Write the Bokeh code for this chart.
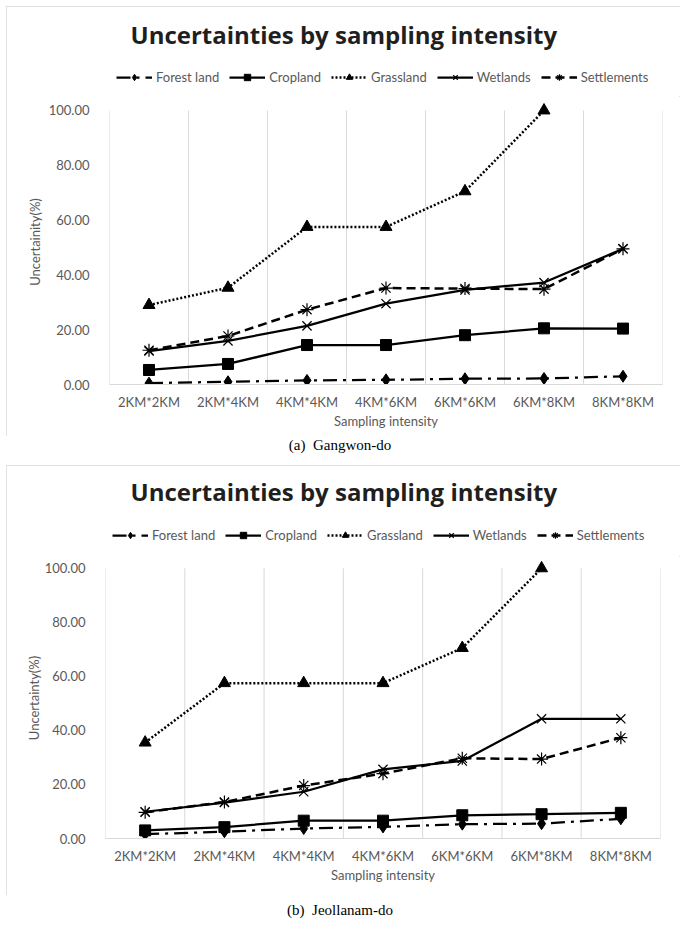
from bokeh.plotting import figure
from bokeh.models import (FixedTicker, NumeralTickFormatter, Legend, LegendItem,
                          Range1d, Div)
from bokeh.layouts import column
from bokeh.embed import file_html
from bokeh.resources import INLINE

# ---------------- data ----------------
categories = ["2KM*2KM", "2KM*4KM", "4KM*4KM", "4KM*6KM", "6KM*6KM", "6KM*8KM", "8KM*8KM"]
series_names = ["Forest land", "Cropland", "Grassland", "Wetlands", "Settlements"]
y_ticks = [0, 20, 40, 60, 80, 100]

# (a) Gangwon-do
gw_forest = [0.5, 1.0, 1.5, 1.7, 2.1, 2.2, 3.0]
gw_cropland = [5.3, 7.5, 14.4, 14.4, 18.0, 20.5, 20.4]
gw_grassland = [29.0, 35.3, 57.5, 57.5, 70.5, 100.0, float("nan")]
gw_wetlands = [12.2, 15.9, 21.4, 29.5, 34.5, 37.2, 49.5]
gw_settlements = [12.5, 17.7, 27.3, 35.2, 35.0, 34.8, 49.5]

# (b) Jeollanam-do
jn_forest = [1.6, 2.5, 3.7, 4.3, 5.3, 5.5, 7.3]
jn_cropland = [3.0, 4.2, 6.6, 6.6, 8.6, 9.0, 9.5]
jn_grassland = [35.5, 57.5, 57.5, 57.5, 70.5, 100.0, float("nan")]
jn_wetlands = [9.9, 13.3, 17.3, 25.6, 28.7, 44.3, 44.3]
jn_settlements = [9.7, 13.5, 19.6, 24.0, 29.7, 29.4, 37.3]

# ---------------- styles ----------------
TEXT = "#595959"
GRID = "#d9d9d9"
styles = {
    "Forest land": dict(dash="14 6 3 6", marker="diamond", size=12, mlw=1, lw=2.25),
    "Cropland": dict(dash="solid", marker="square", size=11, mlw=1, lw=2.25),
    "Grassland": dict(dash="2 2", marker="triangle", size=12, mlw=1, lw=2.5),
    "Wetlands": dict(dash="solid", marker="x", size=13, mlw=1.2, lw=2.25),
    "Settlements": dict(dash="9 5", marker="asterisk", size=13, mlw=1.2, lw=2.5),
}
W = 674  # inner width of each chart box
XS = [i + 0.5 for i in range(len(categories))]


def make_header(values, height, top, frame_left, legend_vy):
    # the series are drawn far outside this header's visible range; they only
    # feed the legend swatches
    h = figure(width=W, height=height, output_backend="svg", toolbar_location=None,
               x_range=Range1d(0, len(categories)), y_range=Range1d(-1000, -999),
               x_axis_type=None, y_axis_type=None,
               min_border_left=0, min_border_right=0, min_border_bottom=0,
               min_border_top=top, border_fill_color="white")
    h.outline_line_color = None
    h.grid.visible = False
    h.title.text = "Uncertainties by sampling intensity"
    h.title.align = "left"
    h.title.offset = 343 - frame_left - 213
    h.title.standoff = 4
    h.title.text_font = "Open Sans"
    h.title.text_font_style = "bold"
    h.title.text_font_size = "24px"
    h.title.text_color = "#1f1f1f"
    items = []
    for name, vals in zip(series_names, values):
        st = styles[name]
        lr = h.line(XS, vals, line_color="black", line_width=st["lw"], line_dash=st["dash"])
        sr = h.scatter(XS, vals, marker=st["marker"], size=st["size"], fill_color="black",
                       line_color="black", line_width=st["mlw"])
        items.append(LegendItem(label=name, renderers=[lr, sr]))
    legend = Legend(items=items, orientation="horizontal",
                    location=(3, legend_vy),
                    glyph_width=36, glyph_height=16, label_standoff=4, spacing=10,
                    label_text_font="Lato", label_text_font_size="13px",
                    label_text_color=TEXT, border_line_alpha=0,
                    background_fill_alpha=0, padding=4, margin=0)
    h.add_layout(legend, "center")
    return h


def make_chart(y_label, values, height, bl, br, bt, bb, ylab_standoff):
    bounds = list(range(len(categories) + 1))
    p = figure(width=W, height=height, output_backend="svg", toolbar_location=None,
               x_range=Range1d(0, len(categories)), y_range=Range1d(0, 104),
               min_border_left=bl, min_border_right=br, min_border_top=bt,
               min_border_bottom=bb, background_fill_color="white",
               border_fill_color="white")
    p.outline_line_color = None
    p.grid.visible = False

    # vertical gridlines at category boundaries, up to the 100 tick
    p.segment(x0=bounds, y0=[y_ticks[0]] * len(bounds), x1=bounds,
              y1=[y_ticks[-1]] * len(bounds), line_color=GRID, line_width=1)

    for name, vals in zip(series_names, values):
        st = styles[name]
        p.line(XS, vals, line_color="black", line_width=st["lw"], line_dash=st["dash"])
        p.scatter(XS, vals, marker=st["marker"], size=st["size"], fill_color="black",
                  line_color="black", line_width=st["mlw"])

    # x axis
    p.xaxis.ticker = FixedTicker(ticks=XS)
    p.xaxis.major_label_overrides = {x: c for x, c in zip(XS, categories)}
    p.xaxis.axis_line_color = GRID
    p.xaxis.major_tick_line_color = None
    p.xaxis.minor_tick_line_color = None
    p.xaxis.major_label_text_font = "Lato"
    p.xaxis.major_label_text_font_size = "13px"
    p.xaxis.major_label_text_color = TEXT
    p.xaxis.major_label_standoff = 3
    p.xaxis.axis_label = "Sampling intensity"
    p.xaxis.axis_label_text_font = "Lato"
    p.xaxis.axis_label_text_font_style = "normal"
    p.xaxis.axis_label_text_font_size = "13px"
    p.xaxis.axis_label_text_color = TEXT
    p.xaxis.axis_label_standoff = 0

    # y axis
    p.yaxis.ticker = FixedTicker(ticks=y_ticks)
    p.yaxis.formatter = NumeralTickFormatter(format="0.00")
    p.yaxis.axis_line_color = None
    p.yaxis.major_tick_line_color = None
    p.yaxis.minor_tick_line_color = None
    p.yaxis.major_label_text_font = "Lato"
    p.yaxis.major_label_text_font_size = "13px"
    p.yaxis.major_label_text_color = TEXT
    p.yaxis.major_label_standoff = 14
    p.yaxis.axis_label = y_label
    p.yaxis.axis_label_text_font = "Lato"
    p.yaxis.axis_label_text_font_style = "normal"
    p.yaxis.axis_label_text_font_size = "13px"
    p.yaxis.axis_label_text_color = TEXT
    p.yaxis.axis_label_standoff = ylab_standoff
    return p


def caption(text, height, pad):
    return Div(text=text, width=680, height=height, margin=0,
               styles={"font-family": "'Liberation Serif', serif", "font-size": "15px",
                       "text-align": "center", "color": "#000000", "line-height": "18px",
                       "padding-top": f"{pad}px", "box-sizing": "border-box"})


box_style = {"outline": "1px solid #d9d9d9", "outline-offset": "-1px"}

gw_values = [gw_forest, gw_cropland, gw_grassland, gw_wetlands, gw_settlements]
jn_values = [jn_forest, jn_cropland, jn_grassland, jn_wetlands, jn_settlements]

h1 = make_header(gw_values, 90, 46, 109, 7)
p1 = make_chart("Uncertainity(%)", gw_values, 340, 103, 18, 3, 52, 3)
box1 = column(h1, p1, spacing=0, margin=(6, 0, 0, 6), styles=box_style)
c1 = caption("(a)&nbsp;&nbsp;Gangwon-do", 29, 0)

h2 = make_header(jn_values, 91, 44, 105, 9)
p2 = make_chart("Uncertainty(%)", jn_values, 339, 99, 20, 1, 57, 0)
box2 = column(h2, p2, spacing=0, margin=(0, 0, 0, 6), styles=box_style)
c2 = caption("(b)&nbsp;&nbsp;Jeollanam-do", 29, 6)

layout = column(box1, c1, box2, c2, spacing=0)

open("out.html", "w").write(file_html(layout, INLINE))
